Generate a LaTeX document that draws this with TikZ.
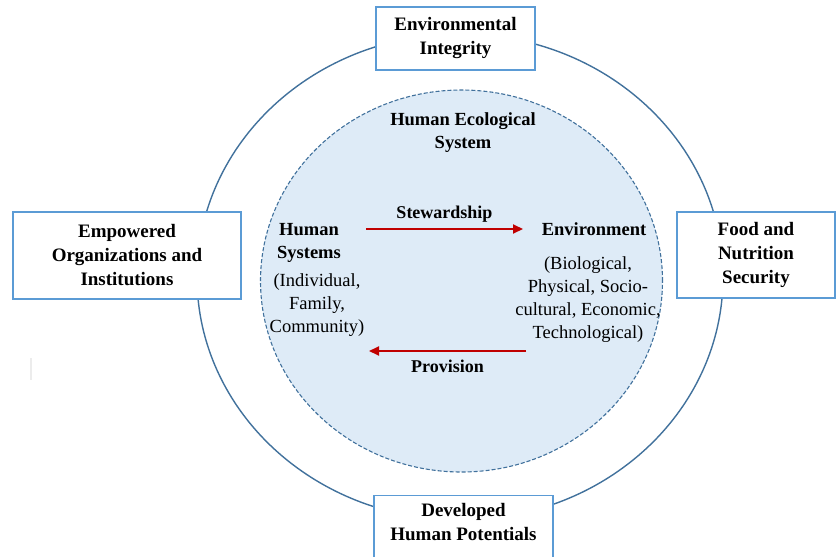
\documentclass[tikz,border=0pt]{standalone}
\usepackage{fontspec}
\setmainfont{Liberation Serif}
\usetikzlibrary{arrows.meta}
\definecolor{ringblue}{RGB}{65,113,156}
\definecolor{boxblue}{RGB}{91,155,213}
\definecolor{corefill}{RGB}{222,235,247}
\definecolor{arrowred}{RGB}{192,0,0}

\begin{document}
\begin{tikzpicture}[x=1pt,y=-1pt,
    goal/.style={draw=boxblue, line width=1.3pt, fill=white, align=center, inner sep=0pt, font=\fontsize{19}{24}\selectfont\bfseries},
    lbl/.style={align=center, inner sep=0pt, anchor=base, font=\fontsize{18.5}{23}\selectfont},
    flow/.style={arrowred, line width=2pt, -{Triangle[length=10pt,width=9pt]}}]
    \useasboundingbox (0,0) rectangle (836,557);
    \clip (0,0) rectangle (836,557);

    \draw[ringblue, line width=1.4pt] (460,277) ellipse [x radius=263pt, y radius=243pt]; %outer ring
    \draw[ringblue, fill=corefill, dash pattern=on 4pt off 2pt, line width=1.1pt] (461.5,281) ellipse [x radius=201pt, y radius=191pt]; %core

    \node[goal, minimum width=159pt, minimum height=63pt] (ei) at (455.5,38.5) {Environmental\\Integrity};
    \node[goal, minimum width=228pt, minimum height=87pt] (eoi) at (127,255.5) {Empowered\\Organizations and\\Institutions};
    \node[goal, minimum width=158pt, minimum height=86pt] (fns) at (756,255) {Food and\\Nutrition\\Security};
    \node[goal, minimum width=179pt, minimum height=80pt, anchor=north] (dhp) at (463.5,495) {};
    \node[goal, draw=none, fill=none] (dhptext) at (463.5,522) {Developed\\Human Potentials};

    % base = baseline of the last line
    \node[lbl, font=\fontsize{18.5}{23}\selectfont\bfseries] (hes) at (463,148) {Human Ecological\\System};
    \node[lbl, font=\fontsize{18.5}{23}\selectfont\bfseries] (hs) at (309,258) {Human\\Systems};
    \node[lbl] (hsparts) at (317,332) {(Individual,\\Family,\\Community)};
    \node[lbl, font=\fontsize{18.5}{23}\selectfont\bfseries] (env) at (594,235) {Environment};
    \node[lbl] (envparts) at (588,338) {(Biological,\\Physical, Socio-\\cultural, Economic,\\Technological)};

    \coordinate (stew-a) at (366,229);
    \coordinate (stew-b) at (523,229);
    \coordinate (prov-a) at (526,351);
    \coordinate (prov-b) at (369,351);
    \draw[flow] (stew-a) -- (stew-b) node[midway, above=2pt, text=black, font=\fontsize{18}{20}\selectfont\bfseries] (stew) {Stewardship};
    \draw[flow] (prov-a) -- (prov-b) node[midway, below=5pt, text=black, font=\fontsize{18}{20}\selectfont\bfseries] (prov) {Provision};

    \draw[gray!15, line width=1.2pt] (31,358) -- (31,380);
\end{tikzpicture}
\end{document}
